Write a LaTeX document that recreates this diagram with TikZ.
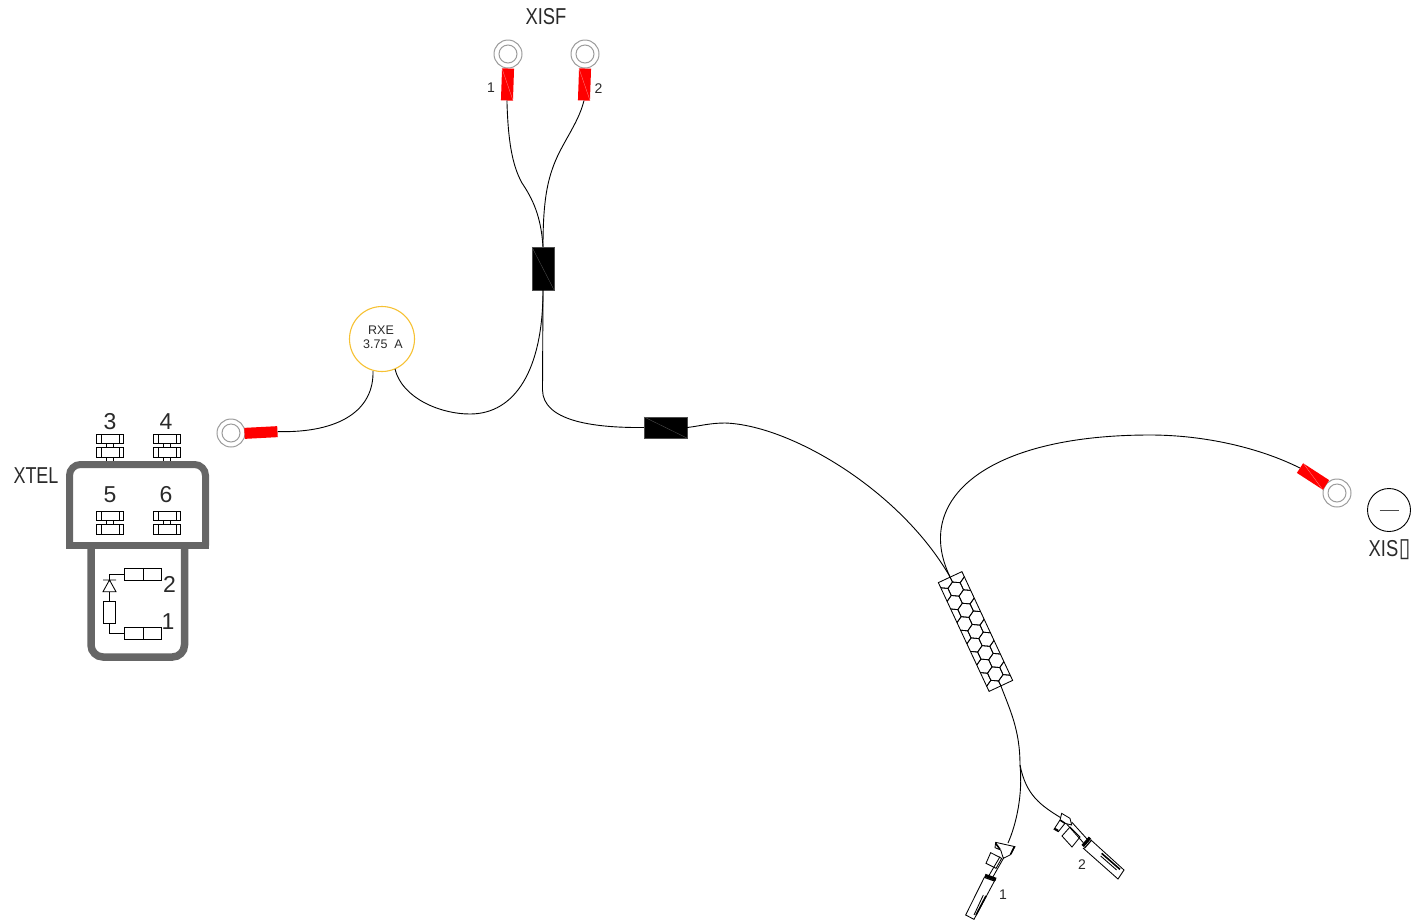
\documentclass[tikz,border=0pt]{standalone}
\usepackage{fontspec}
\setmainfont{Liberation Sans}
\newfontfamily\djfont{DejaVu Sans}
\usetikzlibrary{calc}
\definecolor{shellgrey}{HTML}{666666}
\definecolor{ringgrey}{HTML}{9C9C9C}
\definecolor{fuseorange}{HTML}{F6C133}
\definecolor{textgrey}{HTML}{2A2A2A}
\tikzset{
  wire/.style={draw=black,line width=.9pt},
  thin line/.style={draw=black,line width=.85pt},
  shell/.style={draw=shellgrey,line width=7pt,line join=miter},
  ringout/.style={circle,draw=ringgrey,fill=white,line width=1pt,minimum size=28pt,inner sep=0pt},
  ringin/.style={circle,draw=ringgrey,line width=1pt,minimum size=18pt,inner sep=0pt},
  lug/.style={rectangle,fill=red,inner sep=0pt},
  lugline/.style={draw=red!45!white,line width=.3pt},
  sleeve/.style={rectangle,fill=black,draw=black!70,line width=.3pt,inner sep=0pt},
  big/.style={inner sep=0pt,text=textgrey,font=\fontsize{23}{23}\selectfont},
  small/.style={inner sep=0pt,text=textgrey,font=\fontsize{14}{14}\selectfont},
  tiny/.style={inner sep=0pt,text=textgrey,font=\fontsize{12.5}{14}\selectfont,align=center},
  clampbox/.style={draw=black,line width=.85pt,fill=white},
  clamp/.pic={
    \draw[clampbox] (-13.7,0) rectangle (13.7,9);
    \draw[clampbox] (-13.7,13) rectangle (13.7,23);
    \draw[thin line] (-9,0)--(-9,9) (9,0)--(9,9) (-9,13)--(-9,23) (9,13)--(9,23)
      (-3.5,9)--(-3.5,13) (3.5,9)--(3.5,13);
  }
}
\begin{document}
\begin{tikzpicture}[x=1pt,y=-1pt]
\useasboundingbox (0,0) rectangle (1417,922);
% XISF rings and lugs
\node[ringout] (ringA) at (508,54) {};
\node[ringin] (ringAi) at (508,54) {};
\node[ringout] (ringB) at (585,54) {};
\node[ringin] (ringBi) at (585,54) {};
\node[lug,minimum width=12pt,minimum height=32pt,rotate=-2] (lugA) at (507.5,84.5) {};
\node[lug,minimum width=12pt,minimum height=32pt,rotate=-2] (lugB) at (584.5,84.5) {};
\draw[lugline] (lugA.north west)--(lugA.south east) (lugB.north west)--(lugB.south east);
\node[inner sep=0pt,text=textgrey,font=\fontsize{23}{23}\selectfont,xscale=.8] (xisf) at (546,17) {XISF};
\node[small] (labA) at (491,88) {1};
\node[small] (labB) at (598.5,89) {2};
% sleeves
\node[sleeve,minimum width=22pt,minimum height=43pt] (slA) at (543,268.5) {};
\draw[black!65,line width=.3pt] (slA.north west)--(slA.south east);
\node[sleeve,minimum width=43pt,minimum height=21pt] (slB) at (665.5,427.5) {};
\draw[black!65,line width=.3pt] (slB.north west)--(slB.south east);
% fuse
\node[circle,draw=fuseorange,line width=1.1pt,minimum size=65pt,inner sep=0pt] (fuse) at (382,339) {};
\node[tiny] (fuseA) at (381,330) {RXE};
\node[tiny] (fuseB) at (383,344) {3.75\ \ A};
\coordinate (fuseL) at (373,371);
\coordinate (fuseR) at (395,369);
% left ring
\node[ringout] (ringC) at (231,433) {};
\node[ringin] (ringCi) at (231,433) {};
\node[lug,minimum width=33pt,minimum height=11pt,rotate=3] (lugC) at (261,432.5) {};
% right ring
\node[ringout] (ringD) at (1337,493) {};
\node[ringin] (ringDi) at (1337,493) {};
\node[lug,minimum width=31pt,minimum height=11.5pt,rotate=-33] (lugD) at (1313,476.5) {};
\draw[lugline] (lugD.north west)--(lugD.south east);
% ground symbol
\node[circle,draw=black,line width=.9pt,minimum size=43pt,inner sep=0pt] (gnd) at (1389,510) {};
\draw[black!70,line width=.9pt] (1379.5,510)--(1398.5,510);
\node[inner sep=0pt,text=textgrey] (gndlab) at (1389.5,550) {\fontsize{23}{23}\selectfont\scalebox{.8}[1]{XIS}\hspace{.5pt}\scalebox{1}[1.25]{\fontsize{21}{21}\selectfont\djfont\symbol{"25AF}}};
% braid
\node[draw=black,line width=.85pt,minimum width=26pt,minimum height=120pt,inner sep=0pt,rotate=25] (braid) at (975.5,631.5) {};
\begin{scope}[shift={(975.5,631.5)},rotate=25,x=1pt,y=1pt]
  \clip (-13,-60) rectangle (13,60);
  \foreach \c in {-1,0,1}{
    \foreach \r in {-6,...,6}{
      \pgfmathsetmacro{\px}{\c*13.5+(mod(\r+10,2)==1 ? 6.75 : 0)}
      \pgfmathsetmacro{\py}{\r*11.7}
      \draw[black,line width=.8pt,shift={(\px,\py)}]
        (30:7.8)--(90:7.8)--(150:7.8)--(210:7.8)--(270:7.8)--(330:7.8)--cycle;
    }
  }
\end{scope}
% wires
\draw[wire] (lugA.south) .. controls (508,140) and (512,165) .. (522,183) .. controls (532,198) and (541,215) .. (slA.north);
\draw[wire] (lugB.south) .. controls (578,125) and (560,145) .. (552,170) .. controls (545,190) and (543,215) .. (slA.north);
\draw[wire] (fuseL) .. controls (374,410) and (340,433) .. (lugC.east);
\draw[wire] (fuseR) .. controls (402,398) and (440,414) .. (470,414) .. controls (515,414) and (543,370) .. (slA.south);
\draw[wire] (slA.south) -- (542.5,390) .. controls (543,420) and (590,428) .. (slB.west);
\draw[wire] (slB.east) .. controls (700,426) and (710,423) .. (725,423) .. controls (790,425) and (900,490) .. (braid.north);
\draw[wire] (braid.north) .. controls (913,500) and (985,435) .. (1150,435) .. controls (1205,435) and (1260,448) .. (lugD.west);
\coordinate (split) at (1020,765);
\coordinate (endA) at (1008,843);
\coordinate (endB) at (1061.7,818.3);
\draw[wire] (braid.south) .. controls (1010,710) and (1020,730) .. (split);
\draw[wire] (split) .. controls (1023,795) and (1016,825) .. (endA);
\draw[wire] (split) .. controls (1026,795) and (1040,805) .. (endB);
% terminals (traced)
\begin{scope}[shift={(950,800)},x=.3333pt,y=-.3333pt]
  % terminal 1
  \draw[thin line,fill=white] (137,127)--(195,140)--(180,165)--(160,175)--(152,150)--(135,143)--cycle;
  \draw[black,line width=1.6pt] (137,130)--(150,148) (182,163)--(192,142);
  \draw[thin line] (122,158)--(108,190)--(138,205)--(155,175)--cycle;
  \draw[thin line] (162,172)--(128,232) (150,170)--(116,228);
  \draw[thin line,fill=white] (103,232)--(47,345)--(72,358)--(135,240);
  \draw[black,line width=3.2pt] (105,226)--(138,238);
  \draw[black,line width=1.2pt] (103,232)--(134,243);
  \draw[black,line width=1.6pt] (108,288)--(78,345);
  \draw[thin line] (100,285)--(72,345);
  % terminal 2
  \draw[thin line,fill=white] (335,40)--(360,55)--(365,75)--(345,70)--(325,95)--(312,88)--(330,60)--cycle;
  \draw[black,line width=1.6pt] (325,92)--(315,86) (330,60)--(345,70);
  \draw[thin line] (360,81)--(336,108)--(366,141)--(390,111)--cycle;
  \draw[thin line] (365,66)--(412,118) (350,72)--(400,128);
  \draw[thin line,fill=white] (399,144)--(504,237)--(522,210)--(423,120);
  \draw[black,line width=3.2pt] (398,138)--(420,113);
  \draw[black,line width=1.2pt] (403,145)--(425,120);
  \draw[black,line width=1.6pt] (455,160)--(510,208);
  \draw[thin line] (452,168)--(500,210);
\end{scope}
\node[small] (term1) at (1003,895) {1};
\node[small] (term2) at (1082,865) {2};
% XTEL housing
\draw[shell,rounded corners=11pt] (69.5,545.5)--(69.5,464.5)--(205.5,464.5)--(205.5,545.5);
\draw[shell] (66,545.5)--(209,545.5);
\draw[shell,line width=7.5pt,rounded corners=12pt] (91,549)--(91,657)--(184.5,657)--(184.5,549);
\node[inner sep=0pt,text=textgrey,font=\fontsize{23}{23}\selectfont,xscale=.78] (xtel) at (36,476) {XTEL};
\pic at (110,434.3) {clamp};
\pic at (167,434.3) {clamp};
\pic at (110,511.7) {clamp};
\pic at (167,511.7) {clamp};
\draw[thin line] (106.5,457.3)--(106.5,461) (113.5,457.3)--(113.5,461) (163.5,457.3)--(163.5,461) (170.5,457.3)--(170.5,461);
\node[big] (n3) at (110,422) {3};
\node[big] (n4) at (166,422) {4};
\node[big] (n5) at (110,495) {5};
\node[big] (n6) at (166,495) {6};
\node[big] (n2) at (169.5,584) {2};
\node[big] (n1) at (168,622) {1};
% internal circuit
\node[draw=black,line width=.85pt,minimum width=37.4pt,minimum height=12pt,inner sep=0pt] (boxB) at (143,574.3) {};
\node[draw=black,line width=.85pt,minimum width=37.4pt,minimum height=12pt,inner sep=0pt] (boxA) at (143,633.3) {};
\draw[thin line] (boxB.north)--(boxB.south) (boxA.north)--(boxA.south);
\node[draw=black,line width=.85pt,minimum width=12.4pt,minimum height=22.3pt,inner sep=0pt] (res) at (109.5,612.2) {};
\coordinate (diodeTop) at (109.5,580);
\coordinate (diodeBot) at (109.5,591.7);
\draw[thin line] (103,580)--(116,580) (diodeTop)--(103,591.7)--(116,591.7)--cycle;
\draw[thin line] (boxB.west)-|(diodeTop);
\draw[thin line] (diodeBot)--(res.north);
\draw[thin line] (res.south)|-(boxA.west);
\end{tikzpicture}
\end{document}
